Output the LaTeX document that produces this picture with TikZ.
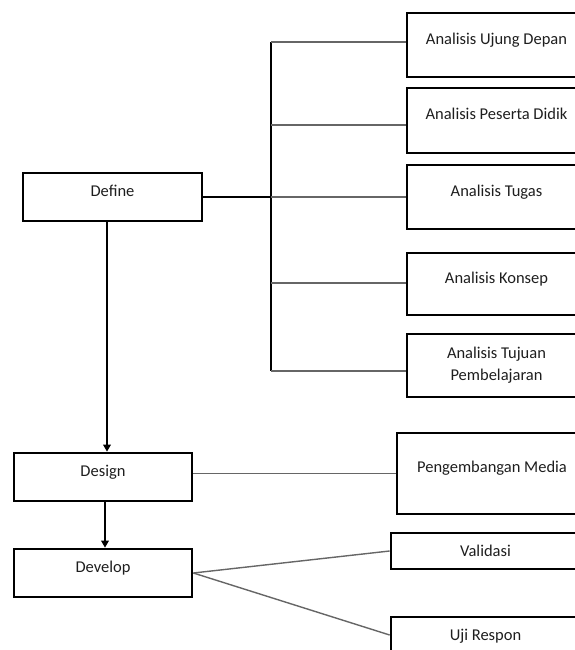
\documentclass[tikz,border=0pt]{standalone}
\usepackage{fontspec}
\setmainfont{Carlito}
\usetikzlibrary{arrows.meta,calc}
\definecolor{branch}{HTML}{666666}
\definecolor{label}{HTML}{1E1E1E}
\tikzset{
  box/.style = {draw=black, line width=2.7pt, inner sep=0pt, align=center,
    text=label, font=\fontsize{16.5}{22}\selectfont},
  raised/.style = {text height=11pt, text depth=12.4pt},
  plain/.style = {text height=11pt, text depth=0.5pt},
  stage/.style = {box, raised, minimum width=178pt, minimum height=48pt},
  task/.style = {box, minimum width=179pt},
  spine/.style = {draw=black, line width=2.9pt},
  twig/.style = {draw=branch, line width=1.4pt},
  flow/.style = {draw=black, line width=2.5pt, -{Triangle[width=7.5pt,length=7pt]}},
}

\begin{document}
\begin{tikzpicture}[x=1pt,y=-1pt]
  \useasboundingbox (0,0) rectangle (574,650);

  % left column
  \node(define)[stage, minimum width=179pt] at (112.5,197) {Define};
  \node(design)[stage] at (103,477) {Design};
  \node(develop)[stage] at (103,573) {Develop};

  % define tasks
  \node(ujung)  [task, raised, minimum height=64pt] at (496.5,45)    {Analisis Ujung Depan};
  \node(peserta)[task, raised, minimum height=65pt] at (496.5,120.5) {Analisis Peserta Didik};
  \node(tugas)  [task, raised, minimum height=64pt] at (496.5,197)   {Analisis Tugas};
  \node(konsep) [task, raised, minimum height=62pt] at (496.5,284)   {Analisis Konsep};
  \node(tujuan) [task, minimum height=63pt] at (496.5,365.5) {Analisis Tujuan\\Pembelajaran};

  % design and develop tasks
  \node(media)   [task, raised, minimum width=190pt, minimum height=81pt] at (492,473.5) {Pengembangan Media};
  \node(validasi)[task, plain, minimum width=189pt, minimum height=36pt] at (485.5,551) {Validasi};
  \node(uji)     [task, plain, minimum width=189pt, minimum height=36pt] at (485.5,635) {Uji Respon};

  \coordinate (b-ujung)   at (271,42);
  \coordinate (b-peserta) at (271,125);
  \coordinate (b-tugas)   at (271,197);
  \coordinate (b-konsep)  at (271,283);
  \coordinate (b-tujuan)  at (271,371);

  \path[spine] (b-ujung) -- (b-tujuan);
  \path[spine] (define.east) -- (define.east -| b-tugas);
  \foreach \n in {ujung, peserta, tugas, konsep, tujuan}
    \path[twig] (b-\n) -- (b-\n -| \n.west);

  \path[flow] ([xshift=-5.5pt]define.south) -- ([xshift=4pt]design.north);
  \path[flow] ([xshift=2pt]design.south) -- ([xshift=2pt]develop.north);

  \path[twig] (design.east |- media.west) -- (media.west);
  \path[twig] (develop.east) -- (validasi.west);
  \path[twig] (develop.east) -- (uji.west);
\end{tikzpicture}
\end{document}
